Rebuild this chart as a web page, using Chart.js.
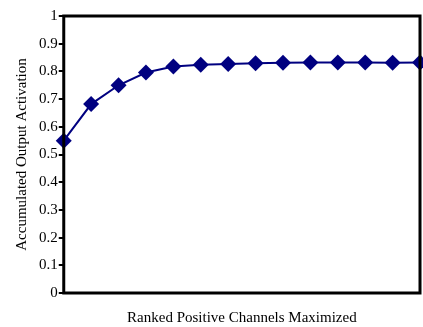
<!DOCTYPE html>
<html>
<head>
<meta charset="utf-8">
<script src="https://cdn.jsdelivr.net/npm/chart.js@4/dist/chart.umd.min.js"></script>
<style>
  html, body { margin: 0; padding: 0; background: #fff; }
  #wrap { width: 423px; height: 327px; }
</style>
</head>
<body>
<div id="wrap"><canvas id="grafico" width="423" height="327"></canvas></div>
<script>
// ---------- dados ----------
const rankedChannels = ['1', '2', '3', '4', '5', '6', '7', '8', '9', '10', '11', '12', '13', '14'];
const accumulatedActivation = [0.55, 0.682, 0.75, 0.796, 0.818, 0.824, 0.827, 0.829, 0.831, 0.832, 0.832, 0.832, 0.831, 0.832];
const yTickLabels = ['0', '0.1', '0.2', '0.3', '0.4', '0.5', '0.6', '0.7', '0.8', '0.9', '1'];

const navy = '#000080';
const serif = "'Liberation Serif', 'Times New Roman', serif";

// moldura preta em volta da área do gráfico
const molduraPlugin = {
  id: 'moldura',
  afterDatasetsDraw(chart) {
    const { ctx, chartArea } = chart;
    ctx.save();
    ctx.strokeStyle = '#000';
    ctx.lineWidth = 3;
    ctx.strokeRect(chartArea.left, chartArea.top, chartArea.right - chartArea.left, chartArea.bottom - chartArea.top);
    ctx.restore();
  }
};

new Chart(document.getElementById('grafico'), {
  type: 'line',
  data: {
    labels: rankedChannels,
    datasets: [{
      data: accumulatedActivation,
      borderColor: navy,
      backgroundColor: navy,
      borderWidth: 2,
      pointStyle: 'rectRot',
      pointRadius: 8,
      pointBorderWidth: 0,
      tension: 0,
      clip: false
    }]
  },
  options: {
    responsive: false,
    animation: false,
    layout: { autoPadding: false, padding: { top: 16, right: 3, left: 13, bottom: 0 } },
    plugins: {
      legend: { display: false },
      tooltip: { enabled: false }
    },
    scales: {
      x: {
        type: 'category',
        offset: false,
        grid: { display: false },
        border: { display: false },
        ticks: { display: false },
        title: {
          display: true,
          text: 'Ranked Positive Channels Maximized',
          color: '#000',
          font: { family: serif, size: 15 },
          padding: { top: 8, bottom: 0 }
        }
      },
      y: {
        min: 0,
        max: 1,
        grid: { drawOnChartArea: false, color: '#000', tickLength: 5, lineWidth: 2 },
        border: { display: false },
        ticks: {
          stepSize: 0.1,
          color: '#000',
          padding: 1,
          font: { family: serif, size: 15 },
          callback: (v, i) => yTickLabels[i]
        },
        title: {
          display: true,
          text: 'Accumulated Output Activation',
          color: '#000',
          font: { family: serif, size: 15 },
          padding: { top: 0, bottom: 7 }
        }
      }
    }
  },
  plugins: [molduraPlugin]
});
</script>
</body>
</html>
